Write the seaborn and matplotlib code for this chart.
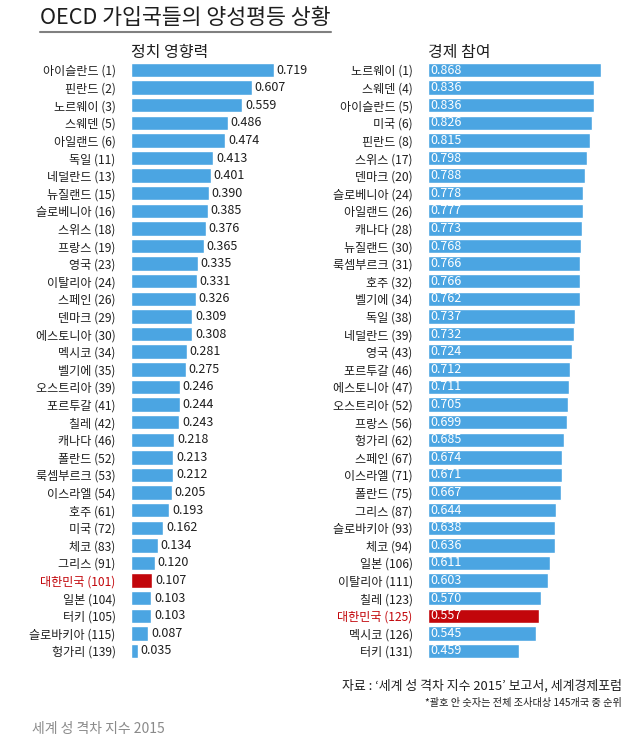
import matplotlib
matplotlib.use("Agg")
import matplotlib.pyplot as plt
from matplotlib.lines import Line2D
import pandas as pd
import seaborn as sns

# ── Data: 세계 성 격차 지수 2015 (OECD members) ────────────────────────────────
POL_COUNTRIES = ["아이슬란드", "핀란드", "노르웨이", "스웨덴", "아일랜드", "독일",
                 "네덜란드", "뉴질랜드", "슬로베니아", "스위스", "프랑스", "영국",
                 "이탈리아", "스페인", "덴마크", "에스토니아", "멕시코", "벨기에",
                 "오스트리아", "포르투갈", "칠레", "캐나다", "폴란드", "룩셈부르크",
                 "이스라엘", "호주", "미국", "체코", "그리스", "대한민국", "일본",
                 "터키", "슬로바키아", "헝가리"]
POL_RANKS = [1, 2, 3, 5, 6, 11, 13, 15, 16, 18, 19, 23, 24, 26, 29, 30, 34, 35,
             39, 41, 42, 46, 52, 53, 54, 61, 72, 83, 91, 101, 104, 105, 115, 139]
POL_VALUES = [0.719, 0.607, 0.559, 0.486, 0.474, 0.413, 0.401, 0.390, 0.385,
              0.376, 0.365, 0.335, 0.331, 0.326, 0.309, 0.308, 0.281, 0.275,
              0.246, 0.244, 0.243, 0.218, 0.213, 0.212, 0.205, 0.193, 0.162,
              0.134, 0.120, 0.107, 0.103, 0.103, 0.087, 0.035]

ECO_COUNTRIES = ["노르웨이", "스웨덴", "아이슬란드", "미국", "핀란드", "스위스",
                 "덴마크", "슬로베니아", "아일랜드", "캐나다", "뉴질랜드", "룩셈부르크",
                 "호주", "벨기에", "독일", "네덜란드", "영국", "포르투갈", "에스토니아",
                 "오스트리아", "프랑스", "헝가리", "스페인", "이스라엘", "폴란드",
                 "그리스", "슬로바키아", "체코", "일본", "이탈리아", "칠레", "대한민국",
                 "멕시코", "터키"]
ECO_RANKS = [1, 4, 5, 6, 8, 17, 20, 24, 26, 28, 30, 31, 32, 34, 38, 39, 43, 46,
             47, 52, 56, 62, 67, 71, 75, 87, 93, 94, 106, 111, 123, 125, 126, 131]
ECO_VALUES = [0.868, 0.836, 0.836, 0.826, 0.815, 0.798, 0.788, 0.778, 0.777,
              0.773, 0.768, 0.766, 0.766, 0.762, 0.737, 0.732, 0.724, 0.712,
              0.711, 0.705, 0.699, 0.685, 0.674, 0.671, 0.667, 0.644, 0.638,
              0.636, 0.611, 0.603, 0.570, 0.557, 0.545, 0.459]

HIGHLIGHT = "대한민국"
BLUE = "#4BA5E2"
RED = "#C2060B"
TEXT = "#1e1e1e"

W, H = 642, 745
PX_PER_UNIT = 199.0


def draw_panel(fig, left_px, width_px, countries, ranks, values, title, inside):
    top_px, bottom_px = 61.2, 659.8
    ax = fig.add_axes([left_px / W, 1 - bottom_px / H,
                       width_px / W, (bottom_px - top_px) / H])
    labels = [f"{c} ({r})" for c, r in zip(countries, ranks)]
    df = pd.DataFrame({"label": labels, "value": values})
    palette = {lab: (RED if c == HIGHLIGHT else BLUE)
               for lab, c in zip(labels, countries)}
    sns.barplot(data=df, x="value", y="label", hue="label", order=labels,
                hue_order=labels, palette=palette, legend=False, width=0.82,
                saturation=1, ax=ax)
    ax.set_xlim(0, width_px / PX_PER_UNIT)
    ax.set_ylim(len(labels) - 0.5, -0.5)

    if inside:
        for i, v in enumerate(values):
            ax.text(0.012, i, f"{v:.3f}", color="white", ha="left",
                    va="center", fontsize=9)
    else:
        for cont in ax.containers:
            ax.bar_label(cont, fmt="%.3f", padding=2, fontsize=9, color=TEXT)

    ax.set_xlabel("")
    ax.set_ylabel("")
    ax.set_xticks([])
    ax.tick_params(axis="y", length=0, pad=11, labelsize=8.7, labelcolor=TEXT)
    for t in ax.get_yticklabels():
        if t.get_text().startswith(HIGHLIGHT):
            t.set_color(RED)
    sns.despine(ax=ax, left=True, bottom=True)
    ax.set_title(title, loc="left", fontsize=11.5, color=TEXT, pad=3)
    return ax


sns.set_theme(style="white")
plt.rcParams["font.family"] = ["Noto Sans CJK KR", "DejaVu Sans"]

fig = plt.figure(figsize=(W / 100, H / 100), dpi=100)
fig.patch.set_facecolor("white")

draw_panel(fig, 131, 189, POL_COUNTRIES, POL_RANKS, POL_VALUES, "정치 영향력", inside=False)
draw_panel(fig, 428, 205, ECO_COUNTRIES, ECO_RANKS, ECO_VALUES, "경제 참여", inside=True)

fig.text(40 / W, 1 - 18 / H, "OECD 가입국들의 양성평등 상황", fontsize=15.6,
         color=TEXT, ha="left", va="center")
fig.add_artist(Line2D([40 / W, 331 / W], [1 - 32 / H, 1 - 32 / H],
                      color="#808080", lw=1.5))
fig.text(622 / W, 1 - 686 / H, "자료 : ‘세계 성 격차 지수 2015’ 보고서, 세계경제포럼",
         fontsize=9.3, color=TEXT, ha="right", va="center")
fig.text(622 / W, 1 - 703 / H, "*괄호 안 숫자는 전체 조사대상 145개국 중 순위",
         fontsize=7.3, color=TEXT, ha="right", va="center")
fig.text(32 / W, 1 - 729 / H, "세계 성 격차 지수 2015", fontsize=10,
         color="#8a8a8a", ha="left", va="center")

fig.savefig("out.png", dpi=100)
